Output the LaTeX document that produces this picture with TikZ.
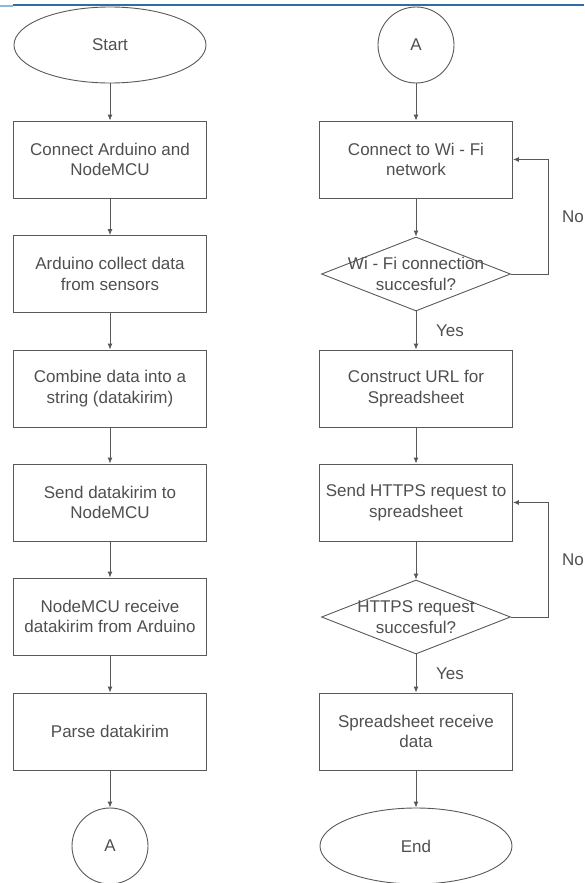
\documentclass[tikz,border=0pt]{standalone}
\usepackage{fontspec}
\setmainfont{Liberation Sans}
\usetikzlibrary{shapes.geometric, arrows.meta}
\definecolor{linegray}{HTML}{595959}
\definecolor{textgray}{HTML}{4F4F4F}
\definecolor{topblue}{HTML}{2F6EA5}
\definecolor{topcyan}{HTML}{86BCDD}

\begin{document}
\begin{tikzpicture}[x = 1pt, y = -1pt,
        font = \fontsize{17}{20.5}\selectfont,
        >={Latex[length=6pt, width=5pt]},
        every node/.style = {text = textgray},
        process/.style = {draw = linegray, line width = 0.9pt, rectangle, minimum width = 193pt, minimum height = 77pt, align = center, inner sep = 0pt},
        terminal/.style = {draw = linegray, line width = 0.9pt, ellipse, minimum width = 192pt, minimum height = 76pt},
        connector/.style = {draw = linegray, line width = 0.9pt, circle, minimum size = 76pt},
        decision/.style = {draw = linegray, line width = 0.9pt, diamond, minimum width = 189pt, minimum height = 74pt, inner sep = 0pt},
        flow/.style = {->, draw = linegray, line width = 0.9pt},
        answer/.style = {inner sep = 0pt}]
    \useasboundingbox (0, 0) rectangle (584, 883);
    \pgfmathsetmacro{\lx}{110}
    \pgfmathsetmacro{\rx}{416}

    % top rule of the page
    \draw [topcyan, line width = 1.5pt] (0, 6) -- (13, 6);
    \draw [topblue, line width = 1.5pt] (13, 5) -- (584, 5);

    % left column
    \node [terminal] (start) at (\lx, 45) {Start};
    \node [process] (connect) at (\lx, 159.5) {Connect Arduino and\\NodeMCU};
    \node [process] (collect) at (\lx, 274) {Arduino collect data\\from sensors};
    \node [process] (combine) at (\lx, 388.5) {Combine data into a\\string (datakirim)};
    \node [process] (senddata) at (\lx, 502.5) {Send datakirim to\\NodeMCU};
    \node [process] (receive) at (\lx, 616.5) {NodeMCU receive\\datakirim from Arduino};
    \node [process] (parse) at (\lx, 731.5) {Parse datakirim};
    \node [connector] (outA) at (\lx, 846) {A};

    \draw [flow] (start) -- (connect);
    \draw [flow] (connect) -- (collect);
    \draw [flow] (collect) -- (combine);
    \draw [flow] (combine) -- (senddata);
    \draw [flow] (senddata) -- (receive);
    \draw [flow] (receive) -- (parse);
    \draw [flow] (parse) -- (outA);

    % right column
    \node [connector] (inA) at (\rx, 45) {A};
    \node [process] (wifi) at (\rx, 159.5) {Connect to Wi - Fi\\network};
    \node [decision] (wifiok) at (\rx, 274) {};
    \node [align = center] (wifioktext) at (wifiok) {Wi - Fi connection\\succesful?};
    \node [process] (url) at (\rx, 388.5) {Construct URL for\\Spreadsheet};
    \node [process] (request) at (\rx, 502.5) {Send HTTPS request to\\spreadsheet};
    \node [decision] (requestok) at (\rx, 617) {};
    \node [align = center] (requestoktext) at (requestok) {HTTPS request\\succesful?};
    \node [process] (sheet) at (\rx, 731.5) {Spreadsheet receive\\data};
    \node [terminal] (end) at (\rx, 846) {End};

    \coordinate (wifiloop) at (548, 274);
    \coordinate (requestloop) at (548, 617);

    \draw [flow] (inA) -- (wifi);
    \draw [flow] (wifi) -- (wifiok);
    \draw [flow] (wifiok) -- (url);
    \draw [flow] (wifiok.east) -- (wifiloop) |- (wifi.east);
    \draw [flow] (url) -- (request);
    \draw [flow] (request) -- (requestok);
    \draw [flow] (requestok) -- (sheet);
    \draw [flow] (requestok.east) -- (requestloop) |- (request.east);
    \draw [flow] (sheet) -- (end);

    \node [answer] (wifino) at (573, 217) {No};
    \node [answer] (wifiyes) at (450, 330.5) {Yes};
    \node [answer] (requestno) at (573, 560) {No};
    \node [answer] (requestyes) at (450, 674) {Yes};
\end{tikzpicture}
\end{document}
